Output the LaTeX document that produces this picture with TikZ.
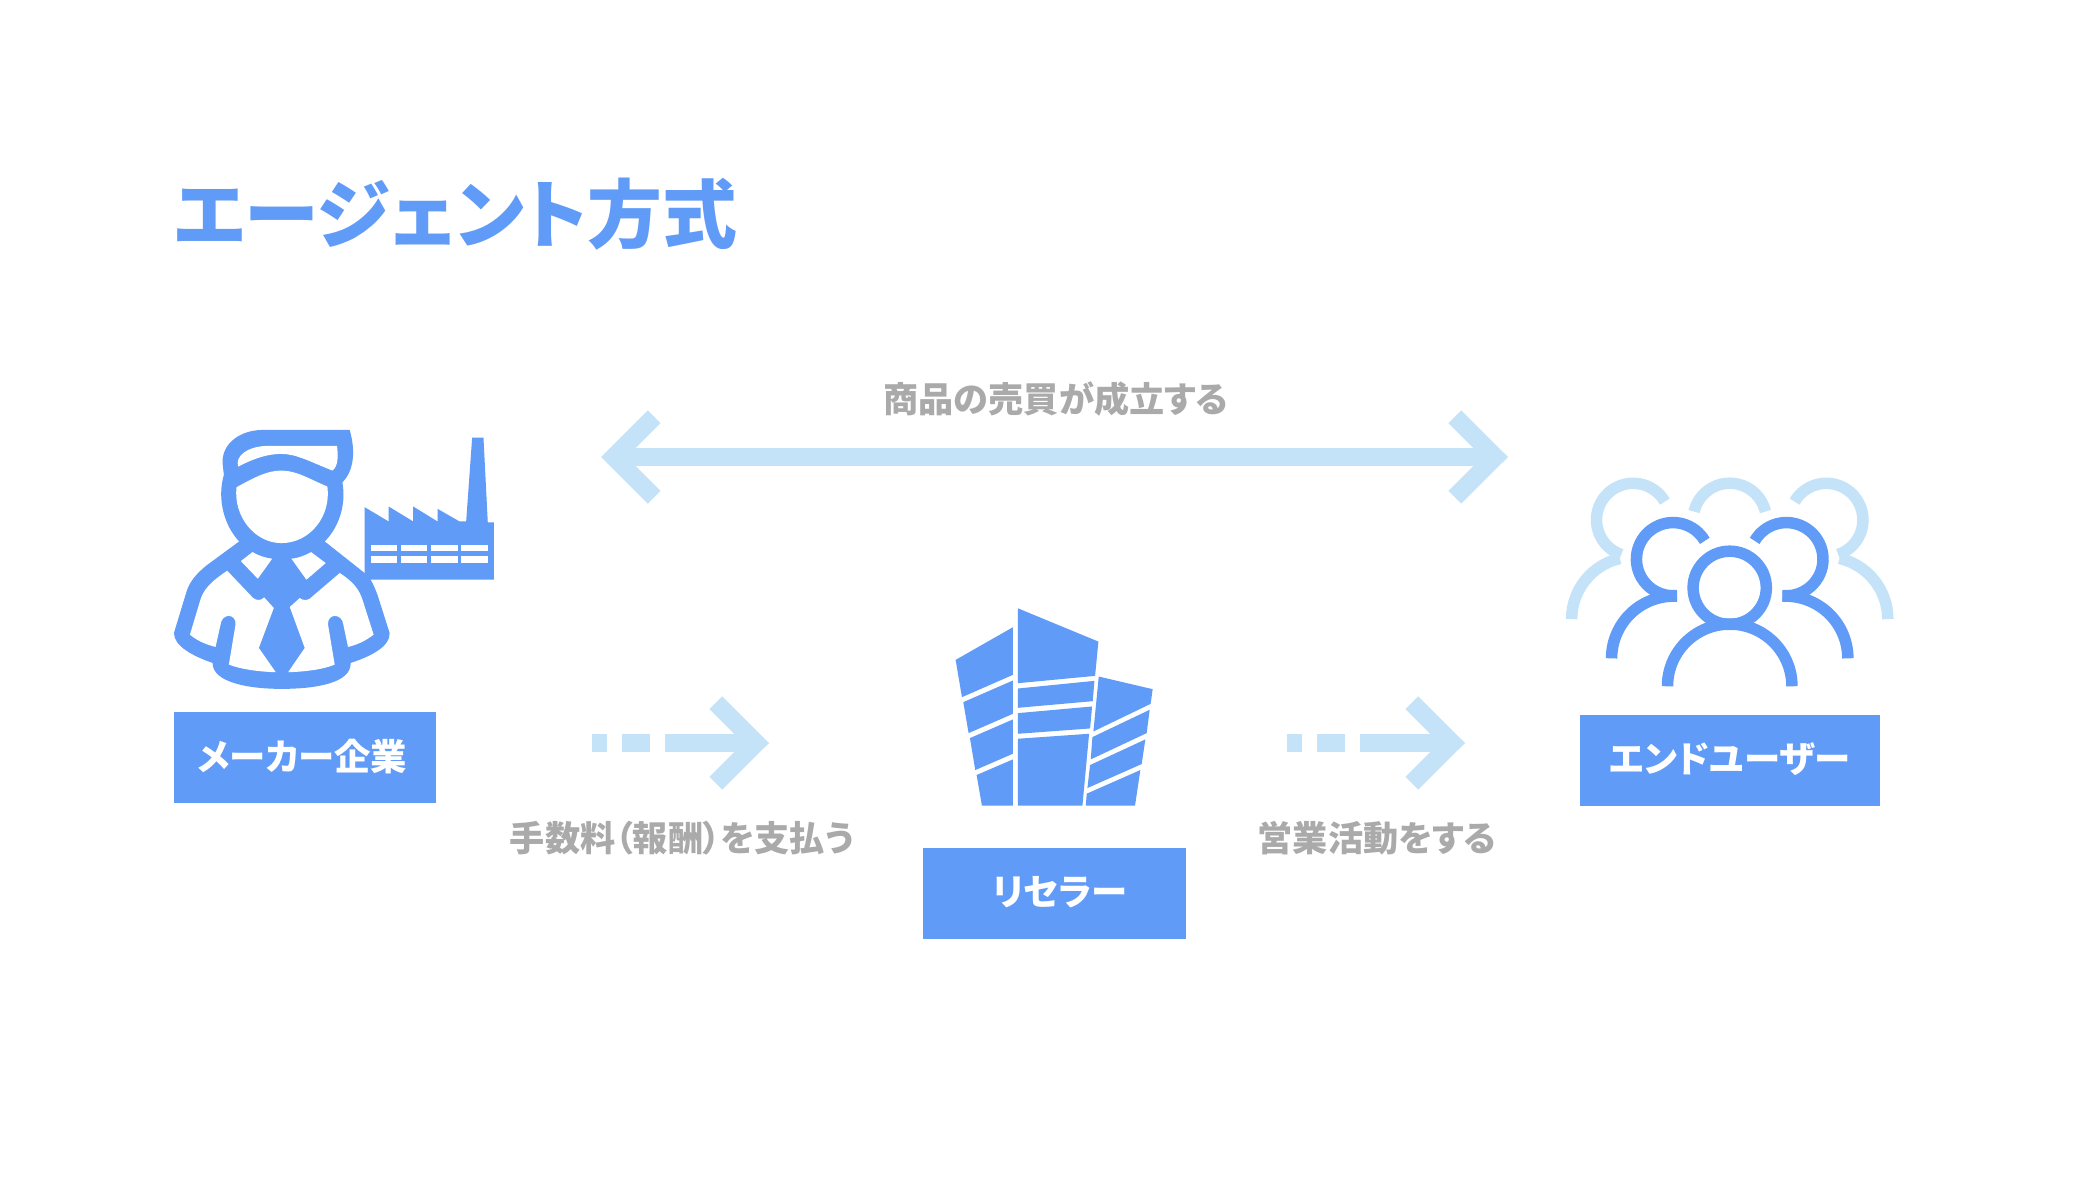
\documentclass[tikz,border=0pt]{standalone}
\usepackage{fontspec}
\setmainfont[RawFeature=+palt]{Noto Sans CJK JP}
\usetikzlibrary{arrows.meta}
\definecolor{mainblue}{RGB}{96,155,247}
\definecolor{softblue}{RGB}{197,227,248}
\definecolor{labelgray}{RGB}{170,170,170}
\tikzset{
  namebox/.style={fill=mainblue, text=white, font=\fontsize{10.35pt}{12pt}\bfseries, minimum width=2.62cm, minimum height=0.91cm, inner sep=0pt},
  flowtext/.style={text=labelgray, font=\fontsize{10pt}{12pt}\bfseries, inner sep=0pt},
  flowline/.style={softblue, line width=5.12pt},
  iconline/.style={mainblue, line width=3.27pt},
  softline/.style={softblue, line width=3.27pt}
}
\begin{document}
\begin{tikzpicture}[x=0.01cm, y=-0.01cm]
\useasboundingbox (0,0) rectangle (2085,1185);
\fill[white] (0,0) rectangle (2085,1185);
\node[anchor=west, text=mainblue, inner sep=0pt, font=\fontsize{21.3pt}{24pt}\bfseries] (title) at (173,214) {エージェント方式};

% maker with factory
\begin{scope}[shift={(150,400)}, x=0.00333cm, y=-0.00333cm]
  \fill[mainblue] (645,322) -- (717,365) -- (717,320) -- (791,365) -- (791,320) -- (864,365) -- (864,327)
    -- (930,365) -- (950,365) -- (968,113) -- (1002,113) -- (1015,368) -- (1033,368) -- (1033,540) -- (645,540) -- cycle;
  \foreach \rowy in {435,470} {
    \foreach \colx in {663,753,844,935} {
      \fill[white] (\colx,\rowy) rectangle ++(80,20);
    }
  }
  \fill[mainblue] (600,90) -- (335,90) .. controls (265,92) and (215,135) .. (218,190) -- (222,225)
    .. controls (200,300) and (225,380) .. (268,425) -- (170,497) .. controls (135,525) and (118,550) .. (110,575)
    -- (72,700) .. controls (72,740) and (130,770) .. (188,790) .. controls (188,850) and (300,868) .. (395,868)
    .. controls (500,868) and (605,850) .. (603,790) .. controls (665,770) and (722,740) .. (720,700)
    -- (685,590) .. controls (678,570) and (672,555) .. (660,535) -- (645,520) -- (525,425)
    .. controls (570,380) and (590,310) .. (578,248) .. controls (610,215) and (620,160) .. (600,90) -- cycle;
  \fill[white] (265,200) .. controls (255,170) and (290,140) .. (350,138) -- (562,138)
    .. controls (566,170) and (565,200) .. (548,212) .. controls (480,185) and (440,162) .. (395,162)
    .. controls (345,162) and (300,182) .. (265,200) -- cycle;
  \fill[white] (260,262) .. controls (310,235) and (350,212) .. (395,212) .. controls (440,212) and (480,238) .. (533,260)
    .. controls (545,350) and (480,430) .. (395,430) .. controls (315,430) and (250,350) .. (260,262) -- cycle;
  \fill[white] (273,484) -- (308,457) .. controls (325,467) and (345,474) .. (367,477) -- (324,537) -- cycle;
  \fill[white] (425,477) .. controls (445,475) and (465,468) .. (484,457) -- (528,490) -- (470,540) -- cycle;
  \fill[white] (232,513) -- (310,595) .. controls (320,603) and (335,603) .. (343,593) -- (372,625) -- (327,745) -- (378,818)
    .. controls (320,816) and (270,808) .. (237,795) -- (257,675) .. controls (260,640) and (215,640) .. (212,675)
    -- (197,742) .. controls (165,734) and (140,722) .. (120,705) -- (150,605) .. controls (160,570) and (180,548) .. (232,513) -- cycle;
  \fill[white] (570,520) -- (480,597) .. controls (470,603) and (458,602) .. (450,595) -- (420,622) -- (465,745) -- (415,818)
    .. controls (475,816) and (525,808) .. (555,795) -- (535,675) .. controls (532,640) and (578,640) .. (581,675)
    -- (595,742) .. controls (625,735) and (650,722) .. (672,705) -- (640,605) .. controls (630,570) and (610,545) .. (570,520) -- cycle;
\end{scope}

% reseller building
\begin{scope}[shift={(930,590)}, x=0.00333cm, y=-0.00333cm, mainblue]
  \fill (77,210) -- (249,112) -- (249,255) -- (96,322) -- cycle;
  \fill (100,337) -- (249,272) -- (249,372) -- (116,430) -- cycle;
  \fill (120,445) -- (249,389) -- (249,492) -- (136,541) -- cycle;
  \fill (140,556) -- (249,509) -- (249,648) -- (156,648) -- cycle;
  \fill (264,55) -- (506,155) -- (496,258) -- (264,280) -- cycle;
  \fill (264,296) -- (494,273) -- (489,334) -- (264,354) -- cycle;
  \fill (264,370) -- (487,350) -- (481,416) -- (264,432) -- cycle;
  \fill (264,447) -- (478,432) -- (458,648) -- (264,648) -- cycle;
  \fill (507,260) -- (669,298) -- (663,342) -- (491,425) -- cycle;
  \fill (488,442) -- (660,360) -- (651,430) -- (483,509) -- cycle;
  \fill (481,526) -- (647,449) -- (636,523) -- (473,595) -- cycle;
  \fill (471,612) -- (632,541) -- (616,648) -- (468,648) -- cycle;
\end{scope}

% end users
\begin{scope}[shift={(1550,460)}, x=0.00333cm, y=-0.00333cm]
  \draw[softline] (345,125) arc[start angle=-30, end angle=-251, radius=110];
  \draw[softline] (65,478) arc[start angle=180, end angle=257, radius=187];
  \draw[softline] (433,155) arc[start angle=-167, end angle=-13, radius=110];
  \draw[softline] (735,125) arc[start angle=-150, end angle=71, radius=110];
  \draw[softline] (1015,478) arc[start angle=360, end angle=283, radius=187];
  \draw[iconline] (465,243) arc[start angle=-30, end angle=-276, radius=110];
  \draw[iconline] (185,596) arc[start angle=180, end angle=273, radius=187];
  \draw[iconline] (615,243) arc[start angle=-150, end angle=96, radius=110];
  \draw[iconline] (895,596) arc[start angle=360, end angle=267, radius=187];
  \draw[iconline] (540,384) circle[radius=110];
  \draw[iconline] (353,680) arc[start angle=180, end angle=360, radius=187];
\end{scope}

\node[namebox] (maker) at (305,757.5) {\raisebox{1.5pt}{\hspace{-1.5pt}メーカー企業}};
\node[namebox] (reseller) at (1054.5,893.5) {\raisebox{1.5pt}{\hspace{3pt}リセラー}};
\node[namebox, minimum width=3cm] (enduser) at (1730,760.5) {\raisebox{1.5pt}{エンドユーザー}};

\coordinate (dealleft) at (601,457);
\coordinate (dealright) at (1508,457);
\coordinate (feestart) at (592,743);
\coordinate (feeend) at (769,743);
\coordinate (salesstart) at (1287,743);
\coordinate (salesend) at (1465,743);
\draw[flowline, {Straight Barb[length=11.5pt, width=22.9pt, line width=5.12pt]}-{Straight Barb[length=11.5pt, width=22.9pt, line width=5.12pt]}] (dealleft) -- (dealright);
\draw[flowline, dash pattern=on 4.27pt off 4.27pt on 7.97pt off 4.27pt on 40pt off 0pt, -{Straight Barb[length=11.5pt, width=22.9pt, line width=5.12pt]}] (feestart) -- (feeend);
\draw[flowline, dash pattern=on 4.27pt off 4.27pt on 7.97pt off 4.27pt on 40pt off 0pt, -{Straight Barb[length=11.5pt, width=22.9pt, line width=5.12pt]}] (salesstart) -- (salesend);

\node[flowtext] (dealtext) at (1056,399) {商品の売買が成立する};
\node[flowtext] (feetext) at (682,838) {手数料（報酬）を支払う};
\node[flowtext] (salestext) at (1377,838) {営業活動をする};
\end{tikzpicture}
\end{document}
